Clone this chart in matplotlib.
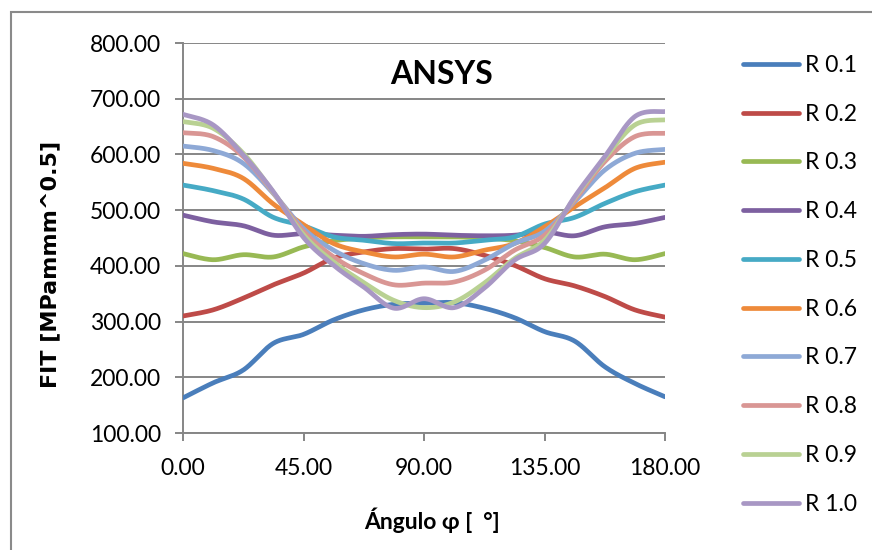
import numpy as np
import matplotlib
matplotlib.use("Agg")
import matplotlib.pyplot as plt
from matplotlib.patches import Rectangle

angles = [0, 11.25, 22.5, 33.75, 45, 56.25, 67.5, 78.75, 90,
          101.25, 112.5, 123.75, 135, 146.25, 157.5, 168.75, 180]

r01 = [163, 190, 213, 261, 277, 303, 321, 331, 333, 334, 324, 307, 282, 265, 219, 189, 165]
r02 = [310, 321, 342, 366, 387, 414, 425, 431, 430, 431, 419, 401, 377, 364, 345, 321, 308]
r03 = [422, 411, 420, 416, 434, 445, 450, 452, 452, 452, 450, 445, 433, 416, 421, 411, 422]
r04 = [491, 479, 472, 455, 458, 455, 453, 456, 457, 455, 454, 455, 461, 454, 470, 476, 487]
r05 = [545, 535, 520, 487, 472, 452, 446, 440, 441, 441, 446, 452, 475, 487, 512, 533, 545]
r06 = [584, 575, 557, 511, 474, 440, 425, 416, 421, 416, 428, 440, 470, 506, 540, 575, 586]
r07 = [615, 607, 584, 530, 467, 428, 404, 392, 398, 390, 410, 440, 462, 515, 572, 602, 609]
r08 = [639, 632, 596, 531, 462, 416, 386, 366, 369, 371, 392, 428, 455, 518, 587, 632, 638]
r09 = [659, 647, 602, 532, 456, 407, 370, 338, 325, 335, 369, 413, 446, 522, 593, 653, 662]
r10 = [672, 653, 599, 533, 451, 401, 362, 324, 341, 325, 360, 410, 440, 524, 596, 668, 677]

series = [r01, r02, r03, r04, r05, r06, r07, r08, r09, r10]
labels = ["R 0.1", "R 0.2", "R 0.3", "R 0.4", "R 0.5",
          "R 0.6", "R 0.7", "R 0.8", "R 0.9", "R 1.0"]
colors = ["#4A7EBB", "#BE4B48", "#98B954", "#7D60A0", "#46AAC5",
          "#EE8A3A", "#8EA9D6", "#D99694", "#B9D193", "#A897C4"]

xticks = [0, 45, 90, 135, 180]
yticks = [100, 200, 300, 400, 500, 600, 700, 800]


def smooth(x, y, n=40):
    """Excel-like smoothed line (Catmull-Rom Bezier)."""
    x = np.asarray(x, float)
    y = np.asarray(y, float)
    px = np.concatenate([[x[0]], x, [x[-1]]])
    py = np.concatenate([[y[0]], y, [y[-1]]])
    t = np.linspace(0, 1, n)[:, None]
    xs, ys = [], []
    for i in range(1, len(px) - 2):
        p0 = np.array([px[i], py[i]])
        p3 = np.array([px[i + 1], py[i + 1]])
        c1 = p0 + (np.array([px[i + 1], py[i + 1]]) - np.array([px[i - 1], py[i - 1]])) / 6
        c2 = p3 - (np.array([px[i + 2], py[i + 2]]) - np.array([px[i], py[i]])) / 6
        b = ((1 - t) ** 3) * p0 + 3 * ((1 - t) ** 2) * t * c1 + 3 * (1 - t) * t ** 2 * c2 + t ** 3 * p3
        xs.append(b[:, 0])
        ys.append(b[:, 1])
    return np.concatenate(xs), np.concatenate(ys)


W, H = 872, 550
fig = plt.figure(figsize=(W / 100, H / 100), dpi=100)
fig.patch.set_facecolor("white")

# outer chart border
fig.patches.append(Rectangle((11 / W, 1 - 1200 / H), 2000 / W, (1200 - 12) / H,
                             transform=fig.transFigure, fill=False,
                             edgecolor="#8A8A8A", linewidth=1.5))

ax = fig.add_axes([183 / W, 1 - 433 / H, (665 - 183) / W, (433 - 43) / H])

grid_c = "#868686"
for v in yticks:
    ax.axhline(v, color=grid_c, linewidth=1.4, zorder=1)

for yv, lab, c in zip(series, labels, colors):
    sx, sy = smooth(angles, yv)
    ax.plot(sx, sy, color=c, linewidth=3.4, label=lab, zorder=3,
            solid_capstyle="round")

ax.set_xlim(0, 180)
ax.set_ylim(100, 800)
ax.set_xticks(xticks)
ax.set_yticks(yticks)
tick_font = "Lato"
ax.set_xticklabels([f"{v:.2f}" for v in xticks], fontsize=16.5, family=tick_font)
ax.set_yticklabels([f"{v:.2f}" for v in yticks], fontsize=16.5, family=tick_font)
ax.tick_params(axis="both", direction="out", length=6, width=1.4, color=grid_c, pad=10)
ax.tick_params(axis="x", pad=12)

for s in ["top", "right"]:
    ax.spines[s].set_visible(False)
for s in ["left", "bottom"]:
    ax.spines[s].set_color(grid_c)
    ax.spines[s].set_linewidth(1.4)
    ax.spines[s].set_zorder(2)

ax.text(0.537, 0.918, "ANSYS", transform=ax.transAxes, ha="center", va="center",
        fontsize=23, fontweight="bold", family="Lato")

fig.text(50 / W, 1 - 264 / H, "FIT [MPammm^0.5]", rotation=90, ha="center", va="center",
         fontsize=16, fontweight="bold", family="DejaVu Sans")
fig.text(432 / W, 1 - 520 / H, "Ángulo φ [  °]", ha="center", va="center",
         fontsize=16.5, fontweight="bold", family=["Lato", "DejaVu Sans"])

leg = fig.legend(loc="upper left", bbox_to_anchor=(743 / W, 1 - 55 / H),
                 frameon=False, borderpad=0, borderaxespad=0,
                 handlelength=2.45, handletextpad=0.25, labelspacing=1.21,
                 prop={"family": "Lato", "size": 16.5})

fig.savefig("out.png", dpi=100)
